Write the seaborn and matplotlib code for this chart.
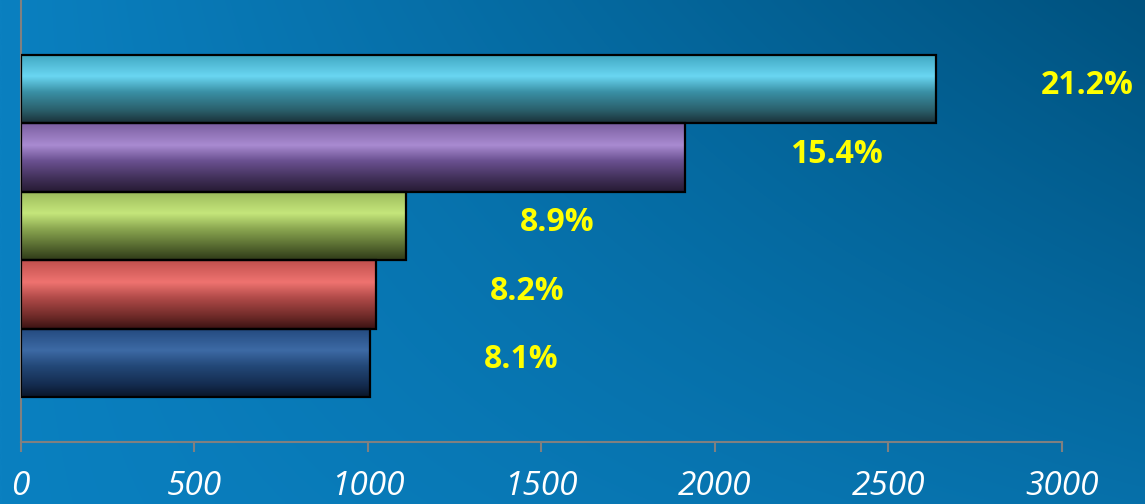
import numpy as np
import pandas as pd
import matplotlib
matplotlib.use("Agg")
import matplotlib.pyplot as plt
import seaborn as sns
from matplotlib.colors import LinearSegmentedColormap, to_rgb

# ---- data ----
categories = ["Series 1", "Series 2", "Series 3", "Series 4", "Series 5"]
values = [2637, 1914, 1110, 1024, 1007]
pct_labels = ["21.2%", "15.4%", "8.9%", "8.2%", "8.1%"]
x_ticks = [0, 500, 1000, 1500, 2000, 2500, 3000]

# gradient stops per bar (top, highlight, mid, lower, bottom)
bar_colors = [
    ["#3fa6c0", "#6ad6f2", "#3a90a5", "#2a5e6a", "#1a3038"],
    ["#7a5ea0", "#a98bd1", "#6a5090", "#3e2e55", "#261a33"],
    ["#9ab95a", "#c5e67b", "#8aa650", "#53652e", "#2e3a18"],
    ["#c0504d", "#ef7370", "#b04a48", "#6e2a28", "#3a1212"],
    ["#23497e", "#3d6aa5", "#234878", "#142c50", "#0a1528"],
]
stops = [0.0, 0.32, 0.55, 0.82, 1.0]

sns.set_theme(style="white")
plt.rcParams["font.family"] = ["Open Sans", "DejaVu Sans"]

W, H = 1145, 504
fig = plt.figure(figsize=(W / 100, H / 100), dpi=100)

# background gradient
bg = fig.add_axes([0, 0, 1, 1], zorder=-10)
xx, yy = np.meshgrid(np.linspace(0, 1, 300), np.linspace(1, 0, 150))
f = np.clip(xx * (0.35 + 0.65 * yy), 0, 1)
c0 = np.array(to_rgb("#0a80c0"))
c1 = np.array(to_rgb("#00527f"))
img = c0[None, None, :] * (1 - f[..., None]) + c1[None, None, :] * f[..., None]
bg.imshow(img, aspect="auto", extent=[0, 1, 0, 1], interpolation="bilinear")
bg.set_axis_off()

ax = fig.add_axes([20.7 / W, 1 - 442 / H, (1062 - 20.7) / W, 442 / H])
ax.patch.set_alpha(0)

df = pd.DataFrame({"cat": categories, "val": values})
sns.barplot(data=df, x="val", y="cat", orient="h", width=1.0, ax=ax,
            color="#888888", edgecolor="black", linewidth=1.6, zorder=3)

xlim = (0, 3000)
ylim = (5.155, -1.304)
for patch, cols in zip(ax.patches, bar_colors):
    x0, y0 = patch.get_x(), patch.get_y()
    w, h = patch.get_width(), patch.get_height()
    cmap = LinearSegmentedColormap.from_list("g", list(zip(stops, cols)))
    grad = np.linspace(0, 1, 256)[:, None]
    im = ax.imshow(grad, cmap=cmap, aspect="auto",
                   extent=[x0, x0 + w, y0 + h, y0], zorder=2,
                   interpolation="bilinear")
    im.set_clip_path(patch)
    patch.set_facecolor("none")

for i, (v, lab) in enumerate(zip(values, pct_labels)):
    ax.text(v + 435, i - 0.05, lab, ha="center", va="center", color="#ffff00",
            fontsize=23, fontweight="bold", zorder=5)

ax.set_xlim(*xlim)
ax.set_ylim(*ylim)
ax.set_xticks(x_ticks)
ax.set_xticklabels([str(t) for t in x_ticks], fontsize=24, style="italic",
                   color="white")
ax.set_yticks([])
ax.set_xlabel("")
ax.set_ylabel("")
for s in ["top", "right"]:
    ax.spines[s].set_visible(False)
for s in ["left", "bottom"]:
    ax.spines[s].set_color("#808080")
    ax.spines[s].set_linewidth(1.5)
ax.tick_params(axis="x", direction="out", length=7.5, width=1.5,
               color="#808080", pad=13, bottom=True)

fig.savefig("out.png", dpi=100)
